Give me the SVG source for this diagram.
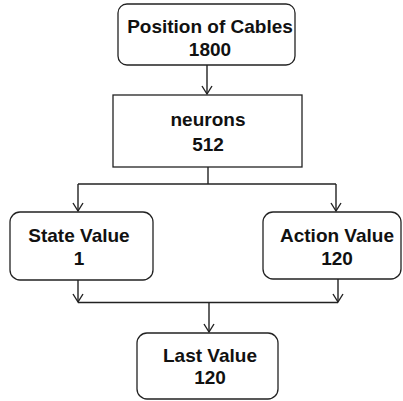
<svg xmlns="http://www.w3.org/2000/svg" width="403" height="401" viewBox="0 0 403 401">
<style>
.box{fill:#fff;stroke:#222;stroke-width:1.3}
.t{font-family:"Liberation Sans",Arial,sans-serif;font-weight:bold;font-size:19px;fill:#111;text-anchor:middle}
.c{fill:none;stroke:#222;stroke-width:1.4}
</style>
<defs>
<marker id="ah" markerWidth="12" markerHeight="12" refX="10" refY="6" orient="auto" markerUnits="userSpaceOnUse">
<path d="M2,1 L10,6 L2,11" fill="none" stroke="#222" stroke-width="1.4"/>
</marker>
</defs>
<rect width="403" height="401" fill="#fff"/>
<g id="connectors">
<path class="c" d="M207,65 V94" marker-end="url(#ah)"/>
<path class="c" d="M208,167 V184"/>
<path class="c" d="M78,184 H336"/>
<path class="c" d="M78,184 V211" marker-end="url(#ah)"/>
<path class="c" d="M336,184 V211" marker-end="url(#ah)"/>
<path class="c" d="M78,280 V302" marker-end="url(#ah)"/>
<path class="c" d="M338,279 V302" marker-end="url(#ah)"/>
<path class="c" d="M78,302.5 H338"/>
<path class="c" d="M209,302.5 V332" marker-end="url(#ah)"/>
</g>
<g id="cables">
<rect class="box" x="118" y="4" width="177" height="61" rx="9"/>
<text class="t" x="210" y="33">Position of Cables</text>
<text class="t" x="210" y="56">1800</text>
</g>
<g id="neurons">
<rect class="box" x="113" y="95" width="189" height="72"/>
<text class="t" x="208" y="126">neurons</text>
<text class="t" x="208" y="151">512</text>
</g>
<g id="state">
<rect class="box" x="10" y="212" width="143" height="68" rx="10"/>
<text class="t" x="79" y="242">State Value</text>
<text class="t" x="79" y="265">1</text>
</g>
<g id="action">
<rect class="box" x="263" y="212" width="138" height="67" rx="10"/>
<text class="t" x="337" y="242">Action Value</text>
<text class="t" x="337" y="265">120</text>
</g>
<g id="last">
<rect class="box" x="137" y="333" width="141" height="66" rx="10"/>
<text class="t" x="210" y="362">Last Value</text>
<text class="t" x="210" y="384">120</text>
</g>
</svg>
